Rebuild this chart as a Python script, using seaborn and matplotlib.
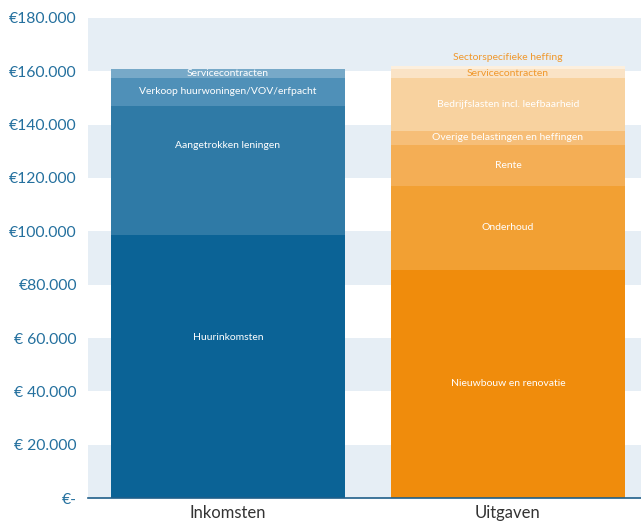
import matplotlib
matplotlib.use("Agg")
import matplotlib.pyplot as plt
import seaborn as sns
import pandas as pd
import numpy as np

categories = ["Inkomsten", "Uitgaven"]

inkomsten_labels = ["Huurinkomsten", "Aangetrokken leningen",
                    "Verkoop huurwoningen/VOV/erfpacht", "Servicecontracten"]
inkomsten_values = [98600, 48400, 10500, 3400]
inkomsten_colors = ["#0b6396", "#2f7aa6", "#4f90b8", "#77a9c8"]

uitgaven_labels = ["Nieuwbouw en renovatie", "Onderhoud", "Rente",
                   "Overige belastingen en heffingen",
                   "Bedrijfslasten incl. leefbaarheid",
                   "Servicecontracten", "Sectorspecifieke heffing"]
uitgaven_values = [85500, 31500, 15400, 5300, 19900, 3400, 1000]
uitgaven_colors = ["#f08c0c", "#f2a033", "#f4ae55", "#f6be78",
                   "#f8d29f", "#fae3c6", "#fcefde"]

ytick_values = [0, 20000, 40000, 60000, 80000, 100000, 120000, 140000, 160000, 180000]
ytick_labels = ["€-", "€ 20.000", "€ 40.000", "€ 60.000", "€80.000",
                "€100.000", "€120.000", "€140.000", "€160.000", "€180.000"]

sns.set_theme(style="white")
plt.rcParams['font.family'] = ['Lato', 'DejaVu Sans']

fig = plt.figure(figsize=(6.41, 5.23), dpi=100)
ax = fig.add_axes([88/641, 25/523, 1 - 88/641, (498-18)/523])

# alternating background bands
for lo in range(0, 180000, 40000):
    ax.axhspan(lo, lo + 20000, color="#e6eef5", zorder=0, lw=0)
ax.axhspan(160000, 180000, color="#e6eef5", zorder=0, lw=0)

width = 0.836

def draw_stack(cat, values, colors):
    cum = np.cumsum(values)
    # draw from tallest to shortest so lower segments overlay
    for i in range(len(values) - 1, -1, -1):
        df = pd.DataFrame({"cat": [cat], "val": [cum[i]]})
        sns.barplot(data=df, x="cat", y="val", order=categories, color=colors[i],
                    saturation=1, width=width, ax=ax, zorder=2, linewidth=0)
    return cum

cum_in = draw_stack("Inkomsten", inkomsten_values, inkomsten_colors)
cum_out = draw_stack("Uitgaven", uitgaven_values, uitgaven_colors)

fs = 7.5
# Inkomsten labels (label placement offsets as in the original)
in_offsets = [10700, 9200, 0, 0]
starts = np.concatenate([[0], cum_in[:-1]])
for lab, s, v, off in zip(inkomsten_labels, starts, inkomsten_values, in_offsets):
    ax.text(0, s + v / 2 + off, lab, ha="center", va="center", color="white",
            fontsize=fs, zorder=5)

# Uitgaven labels
starts = np.concatenate([[0], cum_out[:-1]])
for lab, s, v in zip(uitgaven_labels, starts, uitgaven_values):
    if lab == "Sectorspecifieke heffing":
        y = s + v + 3200
        col = "#f0982c"
    elif lab == "Servicecontracten":
        y = s + v / 2 - 200
        col = "#f0982c"
    else:
        y = s + v / 2
        col = "white"
    ax.text(1, y, lab, ha="center", va="center", color=col, fontsize=fs, zorder=5)

ax.set_xlim(-0.5, 1.475)
ax.set_ylim(0, 180000)
ax.set_yticks(ytick_values)
ax.set_yticklabels(ytick_labels, color="#24709e", fontsize=11.3)
ax.set_xticks([0, 1])
ax.set_xticklabels(categories, color="#333333", fontsize=12)
ax.set_xlabel("")
ax.set_ylabel("")
ax.tick_params(axis="y", length=0, pad=8)
ax.tick_params(axis="x", length=0, pad=5)
for sp in ["top", "right", "left"]:
    ax.spines[sp].set_visible(False)
ax.spines["bottom"].set_color("#1f5f8a")
ax.spines["bottom"].set_linewidth(1.2)
ax.spines["bottom"].set_zorder(6)

fig.savefig("out.png", dpi=100)
